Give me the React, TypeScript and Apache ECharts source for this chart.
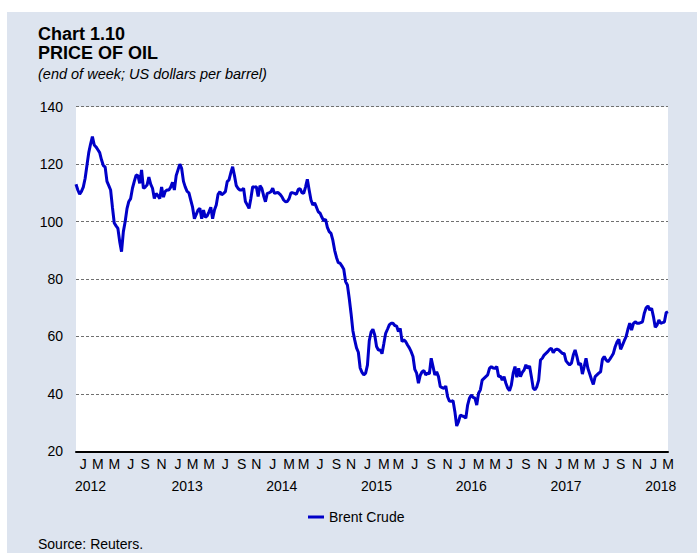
import React, { useEffect, useRef } from 'react';
import * as echarts from 'echarts';

// ---- data ----
const START_DATE = '2012-01-06'; // first weekly observation (Friday)
const SERIES_NAME = 'Brent Crude';
const BRENT: number[] = [
  // 2012
  113.0, 111, 109.5, 110.5, 112, 115, 119.5, 124, 127, 129.6,
  126.7, 126, 125, 124, 121.5, 119.5, 119, 114, 112.5, 111,
  105, 99.5, 98.5, 97.6, 93, 89.5, 96.5, 100, 104.5, 107,
  108, 111.6, 114, 116.2, 116, 113.3, 118, 111.6, 112, 112.7,
  115.5, 113, 111.6, 108, 109.8, 109, 108, 112, 108.5, 110.5,
  111, 111,
  // 2013
  112, 113.7, 111, 116, 118, 120, 118.5, 114, 112, 110.5,
  110, 107.5, 105, 101, 102.5, 104, 104.6, 101, 104, 101.5,
  102, 103.4, 105, 101, 104, 105.8, 109.5, 110.4, 109.3, 109.8,
  110.4, 113.9, 114.5, 117, 119.1, 116, 112.5, 111.5, 111, 111,
  111.6, 107, 105.8, 104.6, 108, 112.1, 112, 112.1, 108.7, 112.5,
  111.6, 109,
  // 2014
  106.9, 109.8, 110, 110.4, 111.6, 109.8, 110, 110.1, 109.5, 108.7,
  107.5, 106.9, 107, 108, 110, 110, 109.8, 109.5, 111.2, 111.5,
  110.1, 109.8, 112, 114.7, 111, 107.5, 105.8, 106.5, 105, 103.4,
  102.9, 101.5, 100.3, 100.8, 98, 96.5, 95.9, 93.5, 90, 87.5,
  85.7, 85.5, 84.5, 83.4, 79.1, 77.9, 73.3, 68, 62, 58.8,
  56, 54.5,
  // 2015
  49, 47.5, 46.6, 47.2, 50, 58.5, 61.5, 62.5, 60.5, 56.5,
  55.3, 55.3, 54, 57.5, 61.1, 62.5, 64, 64.6, 64.6, 63.8,
  63.6, 61.7, 62.8, 58.2, 58.8, 58.2, 57, 56, 54.7, 53,
  48.5, 47.2, 43.7, 46.5, 47.7, 48.1, 46.6, 47.2, 47, 52.4,
  49.5, 46.6, 47.7, 46, 42.5, 42.2, 41.9, 42.7, 39, 37.5,
  37.4, 37.6,
  // 2016
  33.8, 28.8, 30.3, 32.6, 32.3, 32.1, 31.5, 36.1, 38.5, 39.6,
  38.8, 38.5, 36.1, 40.2, 41.4, 44.8, 45.4, 46, 46.6, 48.9,
  49.5, 49, 48.9, 49.5, 46, 46.2, 44.8, 46, 43.7, 42,
  41.1, 43.1, 47.2, 49.5, 45.8, 48.9, 46, 47.5, 48.3, 50.1,
  48.9, 49.7, 46, 42, 41.4, 42.5, 44.8, 51.8, 52.4, 53.5,
  54.1, 54.7,
  // 2017
  55.5, 55.9, 54.3, 55.3, 55.6, 55.3, 54.7, 54.1, 54.1, 51.5,
  50.7, 50.1, 50.7, 53.5, 55.3, 53, 50.1, 50.7, 46.9, 49.5,
  52.4, 48.9, 47, 45, 43.3, 46, 46.6, 47.2, 47.7, 52,
  53, 51.8, 51.2, 52, 53, 54.1, 56.4, 58, 59, 55.5,
  57, 58.5, 59.9, 62.5, 64.6, 62.2, 64.5, 65.1, 64.6, 64.6,
  64.8, 65.1,
  // 2018
  68.1, 70, 70.6, 69.2, 69.8, 66.9, 63.2, 64, 65.7, 64.6,
  64.8, 65, 68.3, 68.6,
];
const MONTH_LETTERS = ['J', 'M', 'M', 'J', 'S', 'N'];
const YEARS = ['2012', '2013', '2014', '2015', '2016', '2017', '2018'];
const Y_MIN = 20;
const Y_MAX = 140;
const Y_STEP = 20;

const TITLE = 'Chart 1.10';
const SUBJECT = 'PRICE OF OIL';
const SUBTITLE = '(end of week; US dollars per barrel)';
const SOURCE = 'Source: Reuters.';

// ---- helpers ----
const DAY = 86400000;
const WEEK = 7 * DAY;
const startMs = Date.parse(START_DATE + 'T00:00:00Z');

function weeklyDates(n: number): string[] {
  const out: string[] = [];
  for (let i = 0; i < n; i++) {
    out.push(new Date(startMs + i * WEEK).toISOString().slice(0, 10));
  }
  return out;
}

function indexOf(y: number, m: number, d: number): number {
  return Math.round((Date.UTC(y, m, d) - startMs) / WEEK);
}

const FONT = "'Liberation Sans', Arial, sans-serif";
const LINE_COLOR = '#0000C8';

export default function App() {
  const ref = useRef<HTMLDivElement>(null);

  useEffect(() => {
    if (!ref.current) return;
    const chart = echarts.init(ref.current, null, { renderer: 'svg' });
    const n = BRENT.length;
    const dates = weeklyDates(n);

    // month letters: each covers a two-month span, centred at the span's middle
    const monthMap = new Map<number, string>();
    YEARS.forEach((ys) => {
      const y = Number(ys);
      MONTH_LETTERS.forEach((lab, k) => {
        const idx = indexOf(y, 1 + 2 * k, 1);
        if (idx >= 0 && idx <= n - 1) monthMap.set(idx, lab);
      });
    });
    const yearMap = new Map<number, string>();
    YEARS.forEach((ys) => {
      const idx = indexOf(Number(ys), 2, 5);
      if (idx >= 0 && idx <= n - 1) yearMap.set(idx, ys);
    });

    chart.setOption({
      animation: false,
      backgroundColor: 'transparent',
      textStyle: { fontFamily: FONT },
      grid: {
        left: 76,
        right: 29,
        top: 106.7,
        bottom: 101.7,
        show: true,
        backgroundColor: '#ffffff',
        borderWidth: 0,
      },
      legend: {
        data: [SERIES_NAME],
        left: 303,
        top: 505,
        icon: 'rect',
        itemWidth: 16,
        itemHeight: 3,
        itemGap: 4,
        textStyle: { fontSize: 14, color: '#000', fontFamily: FONT },
      },
      xAxis: [
        {
          type: 'category',
          data: dates,
          boundaryGap: false,
          axisLine: { show: true, lineStyle: { color: '#000', width: 2 } },
          axisTick: { show: false },
          splitLine: { show: false },
          axisLabel: {
            interval: (index: number) => monthMap.has(index),
            formatter: (_v: string, index: number) => monthMap.get(index) || '',
            color: '#000',
            fontSize: 14,
            margin: 6,
            fontFamily: FONT,
          },
        },
        {
          type: 'category',
          data: dates,
          boundaryGap: false,
          position: 'bottom',
          offset: 22,
          axisLine: { show: false },
          axisTick: { show: false },
          splitLine: { show: false },
          axisLabel: {
            interval: (index: number) => yearMap.has(index),
            formatter: (_v: string, index: number) => yearMap.get(index) || '',
            color: '#000',
            fontSize: 14,
            margin: 6,
            fontFamily: FONT,
          },
        },
      ],
      yAxis: {
        type: 'value',
        min: Y_MIN,
        max: Y_MAX,
        interval: Y_STEP,
        axisLine: { show: false },
        axisTick: { show: false },
        axisLabel: { color: '#000', fontSize: 14, margin: 13, fontFamily: FONT },
        splitLine: {
          show: true,
          lineStyle: { color: '#707070', width: 1, type: [3, 2] },
        },
      },
      series: [
        {
          name: SERIES_NAME,
          type: 'line',
          xAxisIndex: 0,
          data: BRENT,
          showSymbol: false,
          symbol: 'none',
          lineStyle: { color: LINE_COLOR, width: 3 },
          itemStyle: { color: LINE_COLOR },
          z: 5,
        },
      ],
      graphic: [
        {
          type: 'text',
          left: 38,
          top: 25,
          style: { text: TITLE, font: `bold 18px ${FONT}`, fill: '#000' },
        },
        {
          type: 'text',
          left: 38,
          top: 44,
          style: { text: SUBJECT, font: `bold 18px ${FONT}`, fill: '#000' },
        },
        {
          type: 'text',
          left: 38,
          top: 66,
          style: { text: SUBTITLE, font: `italic 14.5px ${FONT}`, fill: '#000' },
        },
        {
          type: 'text',
          left: 38,
          top: 537,
          style: { text: SOURCE, font: `14px ${FONT}`, fill: '#000' },
        },
      ],
    });
    return () => chart.dispose();
  }, []);

  return (
    <div style={{ position: 'absolute', left: 0, top: 0, width: 697, height: 553, background: '#fff' }}>
      <div
        style={{ position: 'absolute', left: 7, top: 12, width: 690, height: 541, background: '#dde4ef' }}
      />
      <div ref={ref} style={{ position: 'absolute', left: 0, top: 0, width: 697, height: 553 }} />
    </div>
  );
}
